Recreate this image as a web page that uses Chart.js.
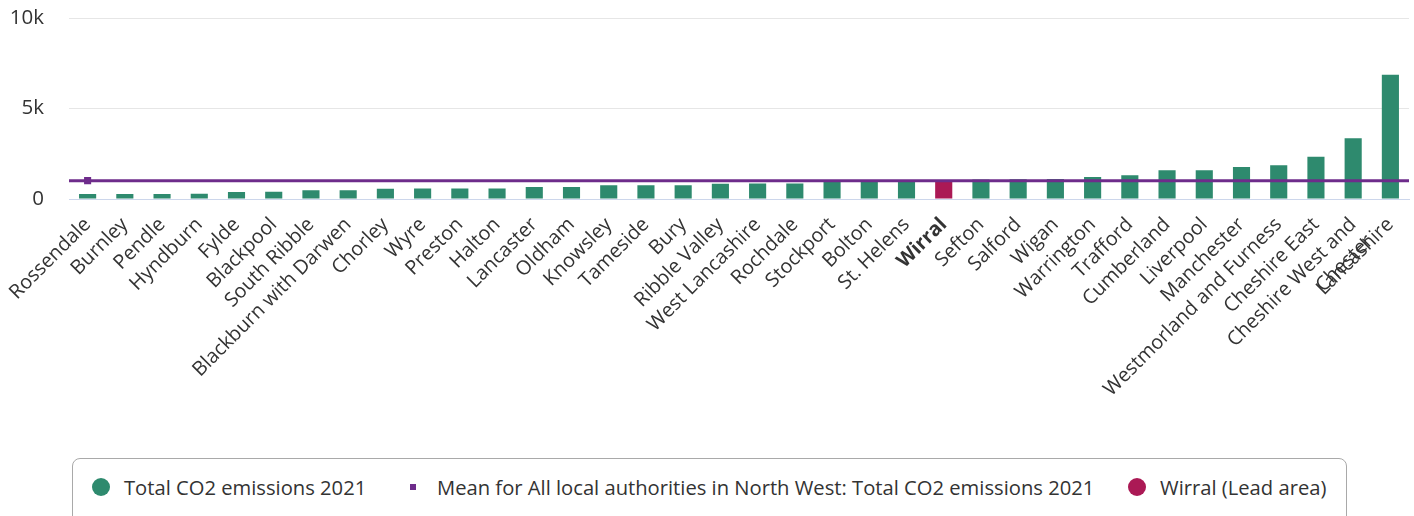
<!DOCTYPE html>
<html>
<head>
<meta charset="utf-8">
<title>Total CO2 emissions 2021</title>
<script src="https://cdn.jsdelivr.net/npm/chart.js@4.4.0/dist/chart.umd.min.js"></script>
<style>
    body { margin: 0; background: #fff; font-family: "Open Sans", sans-serif; }
    #wrap { position: relative; width: 1414px; height: 516px; overflow: hidden; }
    #chartBox { position: absolute; left: 0; top: -19px; width: 1414px; height: 469px; }
    .legend {
        position: absolute; left: 72px; top: 458px; width: 1275px; height: 72px;
        box-sizing: border-box; border: 1px solid #a9a9a9; border-radius: 8px;
    }
    .legend-item {
        position: absolute; top: 0; height: 56px; display: flex; align-items: center;
        font-size: 20.2px; color: #333; white-space: nowrap;
    }
    .dot { width: 18px; height: 18px; border-radius: 50%; margin-right: 14px; }
    .square { width: 6px; height: 6px; margin-right: 21px; margin-left: 3px; }
</style>
</head>
<body>
<div id="wrap">
    <div id="chartBox"><canvas id="co2Chart" width="1414" height="469"></canvas></div>
    <div class="legend" id="legend"></div>
</div>
<script>
// local authorities, sorted by emissions
const categories = [
    'Rossendale', 'Burnley', 'Pendle', 'Hyndburn', 'Fylde', 'Blackpool', 'South Ribble',
    'Blackburn with Darwen', 'Chorley', 'Wyre', 'Preston', 'Halton', 'Lancaster', 'Oldham',
    'Knowsley', 'Tameside', 'Bury', 'Ribble Valley', 'West Lancashire', 'Rochdale', 'Stockport',
    'Bolton', 'St. Helens', 'Wirral', 'Sefton', 'Salford', 'Wigan', 'Warrington', 'Trafford',
    'Cumberland', 'Liverpool', 'Manchester', 'Westmorland and Furness', 'Cheshire East',
    ['Cheshire West and', 'Chester'], 'Lancashire'
];

// kt CO2, 2021
const emissions2021 = [
    277, 280, 282, 285, 390, 395, 480, 490, 570, 575, 580, 585, 664, 670,
    757, 760, 765, 849, 852, 855, 960, 970, 980, 990, 1085, 1095, 1105, 1218, 1310,
    1585, 1590, 1770, 1865, 2345, 3360, 6880
];

const northWestMean = 1015;
const leadArea = 'Wirral';

const yTicks = [0, 5000, 10000];

const seriesLabel = 'Total CO2 emissions 2021';
const meanLabel = 'Mean for All local authorities in North West: Total CO2 emissions 2021';
const leadLabel = 'Wirral (Lead area)';

const GREEN = '#2e8a6e';
const RED = '#ab1955';
const PURPLE = '#6e2c8b';
const FONT = '"Open Sans", sans-serif';

const leadIndex = categories.indexOf(leadArea);
const meanSeries = categories.map((c, i) => i === 0 ? northWestMean : null);

// the mean is drawn right across the plot, above the bars and under its marker
const meanLinePlugin = {
    id: 'meanLine',
    afterDatasetDraw(chart, args) {
        if (args.index !== 1) return;
        const { ctx, chartArea, scales } = chart;
        const y = scales.y.getPixelForValue(northWestMean);
        ctx.save();
        ctx.strokeStyle = PURPLE;
        ctx.lineWidth = 3;
        ctx.beginPath();
        ctx.moveTo(chartArea.left, y);
        ctx.lineTo(chartArea.right, y);
        ctx.stroke();
        ctx.restore();
    }
};

const chart = new Chart(document.getElementById('co2Chart').getContext('2d'), {
    type: 'bar',
    data: {
        labels: categories,
        datasets: [{
            type: 'line',
            label: meanLabel,
            data: meanSeries,
            order: 1,
            showLine: false,
            pointStyle: 'rect',
            pointRadius: 5,
            pointBackgroundColor: PURPLE,
            pointBorderWidth: 0
        }, {
            type: 'bar',
            label: seriesLabel,
            data: emissions2021,
            order: 2,
            backgroundColor: ctx => ctx.index === leadIndex ? RED : GREEN,
            barPercentage: 0.46,
            categoryPercentage: 1
        }]
    },
    options: {
        responsive: false,
        animation: false,
        layout: { padding: { top: 0, right: 4, left: 9, bottom: 0 } },
        plugins: { legend: { display: false }, tooltip: { enabled: false } },
        scales: {
            x: {
                grid: { display: false },
                border: { color: '#ccd6eb', width: 1 },
                ticks: {
                    autoSkip: false,
                    minRotation: 45,
                    maxRotation: 45,
                    padding: 6,
                    color: '#333',
                    font: ctx => ({
                        family: FONT,
                        size: 19.8,
                        weight: ctx.index === leadIndex ? 'bold' : 'normal'
                    })
                },
                afterFit: scale => { scale.height = 251; }
            },
            y: {
                min: yTicks[0],
                max: yTicks[yTicks.length - 1],
                afterBuildTicks: scale => { scale.ticks = yTicks.map(v => ({ value: v })); },
                ticks: {
                    padding: 25,
                    color: '#333',
                    font: { family: FONT, size: 20.5 },
                    callback: v => v === 0 ? '0' : (v / 1000) + 'k'
                },
                grid: {
                    drawTicks: false,
                    color: ctx => ctx.tick && ctx.tick.value === 0 ? '#ccd6eb' : '#e6e6e6'
                },
                border: { display: false },
                afterFit: scale => { scale.width = 60; }
            }
        }
    },
    plugins: [meanLinePlugin]
});

// legend
const legendItems = [
    { text: seriesLabel, cls: 'dot', color: GREEN, left: 19 },
    { text: meanLabel, cls: 'square', color: PURPLE, left: 334 },
    { text: leadLabel, cls: 'dot', color: RED, left: 1055 }
];
const legend = document.getElementById('legend');
legendItems.forEach(item => {
    const el = document.createElement('div');
    el.className = 'legend-item';
    el.style.left = item.left + 'px';
    const mark = document.createElement('span');
    mark.className = item.cls;
    mark.style.background = item.color;
    el.appendChild(mark);
    el.appendChild(document.createTextNode(item.text));
    legend.appendChild(el);
});
</script>
</body>
</html>
